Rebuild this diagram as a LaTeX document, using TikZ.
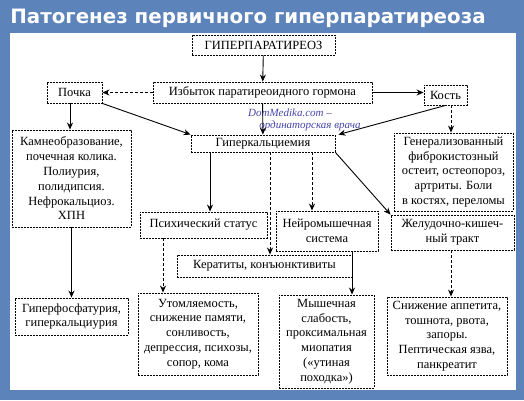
\documentclass[tikz,border=0pt]{standalone}
\usepackage{fontspec}
\setmainfont{Liberation Serif}
\newfontfamily\titlefont{DejaVu Sans}
\usetikzlibrary{arrows.meta}
\definecolor{fonblue}{RGB}{93,131,187}
\definecolor{wmblue}{RGB}{70,70,170}
\tikzset{
    blok/.style={draw,dash pattern=on 2pt off 1pt,line width=0.9pt,align=center,inner sep=0.5pt,
        font=\fontsize{12.5}{14.8}\selectfont},
    arr/.style={-{Stealth[length=7pt,width=6pt]},line width=0.9pt},
}

\begin{document}
\begin{tikzpicture}[x=1pt,y=-1pt]
		\useasboundingbox (0,0) rectangle (524,400);
		\fill[fonblue] (0,0) rectangle (524,400);
		\fill[white] (10,33) rectangle (516,390);
		\node[white,font=\titlefont\bfseries\fontsize{19.8}{22}\selectfont] (title) at (248,18) {Патогенез первичного гиперпаратиреоза};
		% boxes
		\node[blok,minimum width=143,minimum height=20] (gpt) at (263.5,45) {ГИПЕРПАРАТИРЕОЗ};
		\node[blok,minimum width=219,minimum height=21] (izb) at (262.5,92.5) {Избыток паратиреоидного гормона};
		\node[blok,minimum width=55,minimum height=21] (pochka) at (74.5,92.5) {Почка};
		\node[blok,minimum width=43,minimum height=20] (kost) at (445.5,95) {Кость};
		\node[blok,minimum width=144,minimum height=17] (hca) at (263,143.5) {Гиперкальциемия};
		\node[blok,minimum width=119,minimum height=97] (kamn) at (71.5,178.5) {Камнеобразование,\\почечная колика.\\Полиурия,\\полидипсия.\\Нефрокальциоз.\\ХПН};
		\node[blok,minimum width=119,minimum height=78] (gen) at (453.5,172) {Генерализованный\\фиброкистозный\\остеит, остеопороз,\\артриты. Боли\\в костях, переломы};
		\node[blok,minimum width=127,minimum height=26] (psych) at (203.5,225) {Психический статус};
		\node[blok,minimum width=102,minimum height=40] (neuro) at (327,231) {Нейромышечная\\система};
		\node[blok,minimum width=175,minimum height=22] (kerat) at (264.5,266) {Кератиты, конъюнктивиты};
		\node[blok,minimum width=123,minimum height=35] (gi) at (452.5,232.5) {Желудочно-кишеч-\\ный тракт};
		\node[blok,minimum width=113,minimum height=37] (phos) at (71.5,316.5) {Гиперфосфатурия,\\гиперкальциурия};
		\node[blok,minimum width=120,minimum height=82] (utom) at (198,334) {Утомляемость,\\снижение памяти,\\сонливость,\\депрессия, психозы,\\сопор, кома};
		\node[blok,minimum width=95,minimum height=93] (mysh) at (326.5,341.5) {Мышечная\\слабость,\\проксимальная\\миопатия\\(«утиная\\походка»)};
		\node[blok,minimum width=120,minimum height=78] (snizh) at (447,336) {Снижение аппетита,\\тошнота, рвота,\\запоры.\\Пептическая язва,\\панкреатит};
		% watermark
		\node[wmblue,font=\itshape\fontsize{11}{12}\selectfont] (wm1) at (290,113) {DomMedika.com --};
		\node[wmblue,font=\itshape\fontsize{11}{12}\selectfont] (wm2) at (310,126) {ординаторская врача};
		% arrows
		\draw[arr] (gpt) -- (izb);
		\draw[arr,densely dashed] (izb) -- (pochka);
		\draw[arr] (izb) -- (izb -| kost.west);
		\draw[arr] (izb) -- (hca);
		\draw[arr] (pochka.south east) -- (hca.north west);
		\draw[arr] (kost.south) -- ([xshift=3pt]hca.north east);
		\draw[arr] (pochka.south -| 70,0) -- (70,0 |- kamn.north);
		\draw[arr,densely dashed] (kost.south -| 451,0) -- (451,0 |- gen.north);
		\draw[arr] (kamn) -- (phos);
		\draw[arr] (hca.south -| 210,0) -- (210,0 |- psych.north);
		\draw[arr,densely dashed] (hca.south -| 270,0) -- (270,0 |- kerat.north);
		\draw[arr,densely dashed] (hca.south -| 312,0) -- (312,0 |- neuro.north);
		\draw[arr] (hca.south east) -- (gi.north west);
		\draw[arr,densely dashed] (psych.south -| 163,0) -- (163,0 |- utom.north);
		\draw[arr] (neuro.south -| 352,0) -- (352,0 |- mysh.north);
		\draw[arr,densely dashed] (gi.south -| 451,0) -- (451,0 |- snizh.north);
	\end{tikzpicture}
\end{document}
